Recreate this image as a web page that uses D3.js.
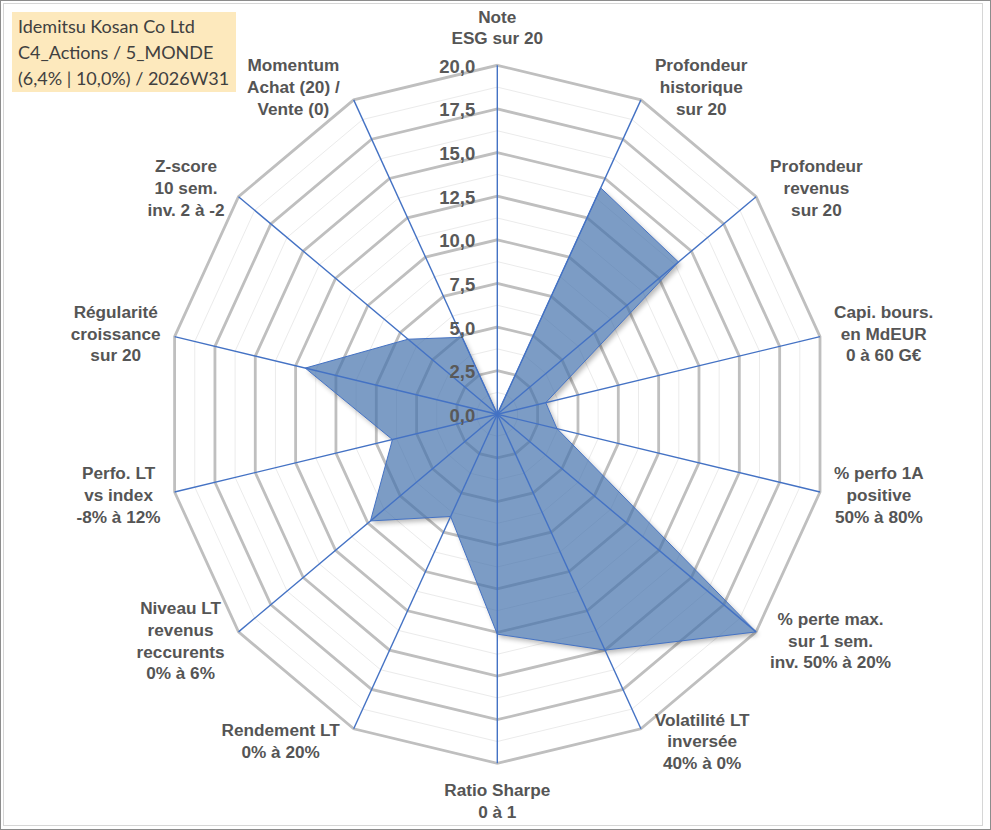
<!DOCTYPE html>
<html>
<head>
<meta charset="utf-8">
<script src="https://cdn.jsdelivr.net/npm/d3@7"></script>
<style>
  html, body { margin: 0; padding: 0; background: #ffffff; }
  svg { display: block; }
</style>
</head>
<body>
<svg id="chart" width="991" height="830"></svg>
<script>
// ---------- data ----------
const categories = [
  ["Note", "ESG sur 20"],
  ["Profondeur", "historique", "sur 20"],
  ["Profondeur", "revenus", "sur 20"],
  ["Capi. bours.", "en MdEUR", "0 à 60 G€"],
  ["% perfo 1A", "positive", "50% à 80%"],
  ["% perte max.", "sur 1 sem.", "inv. 50% à 20%"],
  ["Volatilité LT", "inversée", "40% à 0%"],
  ["Ratio Sharpe", "0 à 1"],
  ["Rendement LT", "0% à 20%"],
  ["Niveau LT", "revenus", "reccurents", "0% à 6%"],
  ["Perfo. LT", "vs index", "-8% à 12%"],
  ["Régularité", "croissance", "sur 20"],
  ["Z-score", "10 sem.", "inv. 2 à -2"],
  ["Momentum", "Achat (20) /", "Vente (0)"]
];
const values = [0, 14.4, 14.0, 3.0, 3.7, 20, 15.0, 12.6, 6.5, 9.8, 6.5, 11.9, 6.9, 4.9];
const tickValues = [0, 2.5, 5, 7.5, 10, 12.5, 15, 17.5, 20];
const minorValues = [1.25, 3.75, 6.25, 8.75, 11.25, 13.75, 16.25, 18.75];
const titleLines = ["Idemitsu Kosan Co Ltd", "C4_Actions / 5_MONDE", "(6,4% | 10,0%) / 2026W31"];

// ---------- layout ----------
const W = 991, H = 830;
const cx = 497.3, cy = 414.3;
const rX = d3.scaleLinear().domain([0, 20]).range([0, 331]);
const rY = d3.scaleLinear().domain([0, 20]).range([0, 349]);
const n = categories.length;
const ang = d3.scaleLinear().domain([0, n]).range([0, 2 * Math.PI]);
const pt = (i, v) => [cx + rX(v) * Math.sin(ang(i)), cy - rY(v) * Math.cos(ang(i))];
const fmt = v => d3.format(".1f")(v).replace(".", ",");

const svg = d3.select("#chart");
const defs = svg.append("defs");

// frame
svg.append("rect").attr("x", 0.5).attr("y", 0.5).attr("width", W - 1).attr("height", H - 1)
  .attr("fill", "#fff").attr("stroke", "#8c8c8c");
svg.append("rect").attr("x", 3.5).attr("y", 3.5).attr("width", 979).attr("height", 822)
  .attr("fill", "none").attr("stroke", "#d6d6d6");

const ringLine = d3.line().curve(d3.curveLinearClosed);
const ringPts = v => d3.range(n).map(i => pt(i, v));

// minor rings
svg.append("g").selectAll("path").data(minorValues).join("path")
  .attr("d", v => ringLine(ringPts(v)))
  .attr("fill", "none").attr("stroke", "#ebebeb").attr("stroke-width", 1);

// major rings
svg.append("g").selectAll("path").data(tickValues.filter(v => v > 0)).join("path")
  .attr("d", v => ringLine(ringPts(v)))
  .attr("fill", "none").attr("stroke", "#bfbfbf").attr("stroke-width", 2.8)
  .attr("stroke-linejoin", "miter");

// shadow of the series (outside the polygon only)
const polyPts = values.map((v, i) => pt(i, v));
const polyD = ringLine(polyPts);
defs.append("filter").attr("id", "blur").attr("x", "-20%").attr("y", "-20%").attr("width", "140%").attr("height", "140%")
  .append("feGaussianBlur").attr("stdDeviation", 2.5);
const mask = defs.append("mask").attr("id", "outside");
mask.append("rect").attr("width", W).attr("height", H).attr("fill", "#fff");
mask.append("path").attr("d", polyD).attr("fill", "#000");
svg.append("g").attr("mask", "url(#outside)")
  .append("path").attr("d", polyD)
  .attr("transform", "translate(2.5,3)")
  .attr("fill", "#000").attr("opacity", 0.28).attr("filter", "url(#blur)");

// series polygon
svg.append("path").attr("d", polyD)
  .attr("fill", "#4572ac").attr("fill-opacity", 0.7)
  .attr("stroke", "#4472c4").attr("stroke-width", 1).attr("stroke-linejoin", "miter");

// spokes
svg.append("g").selectAll("line").data(d3.range(n)).join("line")
  .attr("x1", cx).attr("y1", cy)
  .attr("x2", i => pt(i, 20)[0]).attr("y2", i => pt(i, 20)[1])
  .attr("stroke", "#4472c4").attr("stroke-width", 1.4);

// tick labels
svg.append("g").selectAll("text").data(tickValues).join("text")
  .attr("x", cx - 22).attr("y", v => cy - rY(v) + 1)
  .attr("text-anchor", "end").attr("dominant-baseline", "central")
  .attr("font-family", "'Liberation Sans', Arial, sans-serif")
  .attr("font-weight", "bold").attr("font-size", 18.5).attr("fill", "#595959")
  .text(fmt);

// category labels
const lineH = 21.8;
const lab = svg.append("g")
  .attr("font-family", "'Liberation Sans', Arial, sans-serif")
  .attr("font-weight", "bold").attr("font-size", 17.2).attr("fill", "#555555");
categories.forEach((lines, i) => {
  const a = ang(i);
  const [vx, vy] = pt(i, 20);
  const s = Math.sin(a), c = Math.cos(a);
  const t = lab.append("text").attr("text-anchor", "middle");
  const spans = lines.map(l => t.append("tspan").text(l));
  const w = d3.max(t.selectAll("tspan").nodes(), nd => nd.getComputedTextLength());
  const h = lines.length * lineH;
  let bx, by;
  if (Math.abs(s) < 0.01) {
    bx = vx;
    by = vy - Math.sign(c) * (h / 2 + 16);
  } else {
    bx = vx + Math.sign(s) * (14 + w / 2);
    by = vy - c * 14;
  }
  spans.forEach((sp, k) => {
    sp.attr("x", bx).attr("y", by + (k - (lines.length - 1) / 2) * lineH)
      .attr("dominant-baseline", "central");
  });
});

// title box
svg.append("rect").attr("x", 12).attr("y", 12).attr("width", 224).attr("height", 80)
  .attr("fill", "#fde9bd");
svg.append("g").selectAll("text").data(titleLines).join("text")
  .attr("x", 18).attr("y", (d, i) => 33 + i * 26)
  .attr("font-family", "Lato, 'Open Sans', sans-serif").attr("font-size", 18)
  .attr("fill", "#404040")
  .text(d => d);
</script>
</body>
</html>
